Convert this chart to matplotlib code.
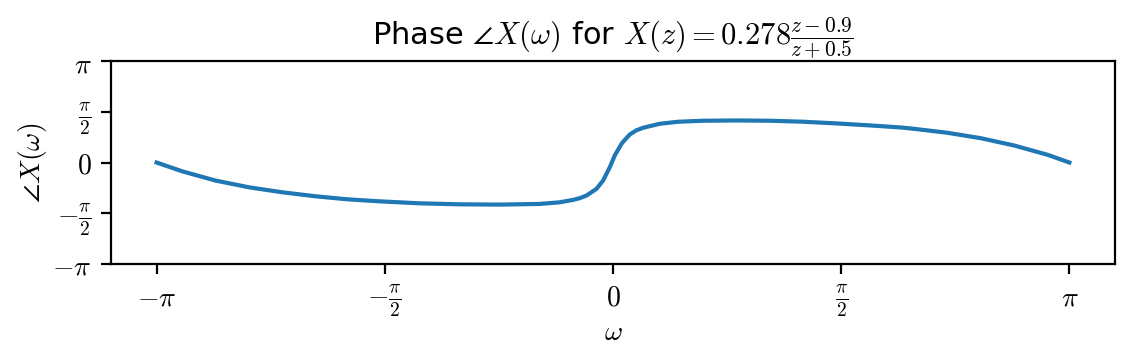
import numpy as np
import matplotlib.pyplot as plt

plt.rcParams["mathtext.fontset"] = "cm"
plt.rcParams["font.family"] = ["DejaVu Sans"]

# points (omega in rad, phase in rad)
omega = [-3.1416, -2.967, -2.736, -2.507, -2.277, -2.046, -1.828, -1.609,
         -1.333, -1.057, -0.781, -0.505, -0.367, -0.275, -0.229, -0.183,
         -0.114, -0.068, -0.045, -0.022, 0.012, 0.059, 0.068, 0.116, 0.162,
         0.208, 0.323, 0.449, 0.622, 0.852, 1.082, 1.312, 1.542, 1.772,
         1.979, 2.071, 2.302, 2.531, 2.761, 2.992, 3.1416]
phase = [0.0, -0.270, -0.559, -0.767, -0.922, -1.047, -1.140, -1.202,
         -1.264, -1.295, -1.304, -1.283, -1.233, -1.158, -1.105, -1.025,
         -0.817, -0.559, -0.351, -0.146, 0.217, 0.581, 0.635, 0.870, 1.000,
         1.078, 1.202, 1.264, 1.295, 1.304, 1.295, 1.264, 1.211, 1.149,
         1.087, 1.045, 0.922, 0.755, 0.528, 0.239, 0.0]

ticks = [-np.pi, -np.pi / 2, 0, np.pi / 2, np.pi]
tick_labels = [r"$-\pi$", r"$-\frac{\pi}{2}$", r"$0$", r"$\frac{\pi}{2}$", r"$\pi$"]

fig, ax = plt.subplots(figsize=(5.66, 1.82), dpi=200)
fig.subplots_adjust(left=0.098, right=0.985, top=0.832, bottom=0.275)

ax.plot(omega, phase, color="tab:blue", linewidth=1.5)
ax.set_ylim(-np.pi, np.pi)
ax.set_xticks(ticks)
ax.set_xticklabels(tick_labels, fontsize=10)
ax.set_yticks(ticks)
ax.set_yticklabels(tick_labels, fontsize=10)
ax.tick_params(length=3.5, width=0.8)
ax.set_xlabel(r"$\omega$", fontsize=10, labelpad=-1)
ax.set_ylabel(r"$\angle X(\omega)$", fontsize=10, labelpad=1)
ax.set_title(r"Phase $\angle X(\omega)$ for $X(z) = 0.278\frac{z-0.9}{z+0.5}$", fontsize=11, pad=2)

fig.savefig("out.png", dpi=200)
